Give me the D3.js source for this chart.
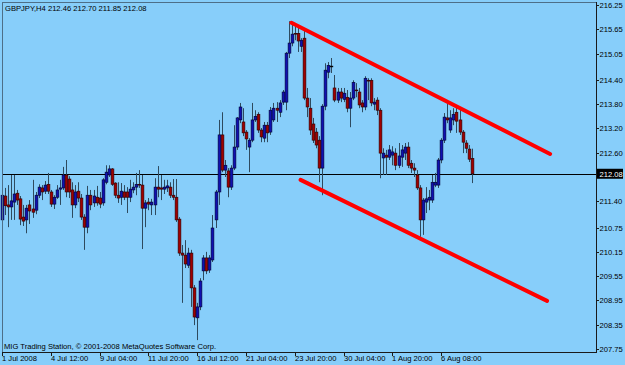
<!DOCTYPE html>
<html>
<head>
<meta charset="utf-8">
<script src="https://cdn.jsdelivr.net/npm/d3@7"></script>
<style>
  html, body { margin: 0; padding: 0; background: #87cefa; }
  svg { display: block; font-family: "Liberation Sans", Arial, sans-serif; }
</style>
</head>
<body>
<svg id="chart" width="625" height="365"></svg>
<script>
const symbol = "GBPJPY,H4";
const copyright = "MIG Trading Station, \u00a9 2001-2008 MetaQuotes Software Corp.";

// H4 bars, 1 Jul 2008 -> 7 Aug 2008
const opens = [210.94,211.53,211.31,211.26,211.38,211.60,211.46,211.01,210.94,211.31,211.21,211.18,211.55,211.73,211.65,211.82,211.63,211.33,211.50,211.70,
  211.73,212.05,211.95,211.68,211.31,211.65,211.48,211.01,210.76,211.55,211.36,211.50,211.48,211.36,211.87,212.05,212.20,211.85,211.55,211.50,
  211.63,211.63,211.50,211.68,211.75,211.82,211.80,211.23,211.38,211.31,211.31,211.75,211.73,211.70,211.73,211.75,211.55,211.50,210.96,210.12,
  210.07,209.82,210.12,209.26,208.52,208.79,209.68,210.00,209.70,209.95,210.94,211.63,213.04,212.17,212.15,211.75,212.22,212.74,213.41,213.36,
  213.11,212.74,212.91,213.41,213.55,213.16,212.96,213.28,213.11,213.41,213.70,213.60,213.85,213.85,215.06,215.31,215.55,215.55,215.23,215.43,
  213.95,213.70,213.31,213.11,212.91,212.22,213.75,214.59,214.74,214.20,213.90,214.10,213.92,213.97,213.70,213.95,214.15,214.10,213.83,213.73,
  214.39,214.39,213.80,213.90,213.65,212.47,212.54,212.49,212.54,212.59,212.29,212.49,212.59,212.74,212.34,212.22,212.05,211.73,210.94,211.38,
  211.43,211.43,211.80,211.80,212.42,212.91,213.46,213.16,213.41,213.60,213.41,213.11,212.84,212.69,212.46];
const highs = [211.75,211.73,211.80,212.05,212.05,211.68,211.53,211.31,211.31,211.43,211.93,211.63,211.82,211.80,211.90,212.10,211.68,211.55,211.80,211.93,
  212.25,212.42,212.02,211.87,211.80,211.87,211.58,211.08,211.78,211.68,211.68,211.78,211.63,211.97,212.29,212.29,212.22,211.87,211.87,211.85,
  211.80,211.75,211.93,211.87,212.10,212.17,212.05,211.43,211.48,211.46,211.97,212.27,212.05,211.93,211.93,211.87,211.95,211.95,211.01,210.32,
  210.44,210.25,210.20,209.33,208.89,209.50,210.07,210.15,210.07,211.06,211.68,213.41,213.60,212.42,212.22,212.29,213.28,213.48,213.83,213.70,
  213.16,212.96,213.83,213.65,213.60,213.21,213.36,213.36,213.73,213.83,213.85,213.90,214.15,215.09,215.85,215.80,215.73,215.75,215.43,215.63,
  214.20,213.95,213.46,213.21,213.01,213.80,214.81,214.84,214.94,214.52,214.20,214.20,214.20,214.15,214.10,214.39,214.32,214.20,213.90,214.49,
  214.44,214.44,213.95,213.97,213.70,212.71,212.67,212.79,212.76,212.71,212.84,212.79,212.84,212.86,212.42,212.34,212.17,211.80,211.48,211.75,
  211.68,212.05,212.10,212.47,212.96,213.58,213.90,213.65,213.70,213.73,213.70,213.16,212.91,212.79,212.70];
const lows = [210.91,211.06,210.76,210.94,210.94,211.31,210.81,210.79,210.61,210.84,210.99,211.08,211.48,211.43,211.58,211.58,211.26,211.21,211.46,211.31,
  211.68,211.50,211.48,210.99,211.23,211.38,210.94,210.20,210.61,211.18,211.26,211.29,211.23,211.29,211.82,212.00,211.78,211.48,211.36,211.31,
  211.43,211.11,211.38,211.60,211.55,211.73,210.22,210.76,211.18,211.06,211.06,211.50,211.43,211.58,211.63,211.48,211.43,210.89,210.05,208.89,
  209.75,209.75,208.79,208.34,207.97,208.71,209.45,209.60,209.63,209.90,210.74,211.31,212.12,212.00,211.50,211.68,212.17,212.67,213.33,213.01,
  212.67,212.12,212.86,213.36,213.09,212.86,212.86,212.86,213.04,213.36,213.36,213.48,213.78,213.65,214.94,215.23,215.38,215.09,215.09,213.90,
  213.48,213.04,212.84,212.71,211.87,211.55,213.65,214.44,214.57,213.85,213.83,213.85,213.85,213.60,213.23,213.90,213.97,213.70,213.60,213.65,
  213.90,213.75,213.65,213.53,211.97,212.05,212.05,212.42,212.29,212.17,212.22,212.25,212.42,212.22,212.10,212.00,211.68,210.52,210.57,211.11,
  211.18,211.36,211.75,211.73,212.34,212.84,213.33,213.09,213.28,213.09,213.04,212.59,212.59,212.37,211.85];
const closes = [211.55,211.29,211.26,211.41,211.58,211.43,210.96,210.91,211.23,211.16,211.13,211.55,211.75,211.63,211.80,211.65,211.33,211.50,211.68,211.73,
  212.05,211.63,211.63,211.31,211.63,211.48,211.01,210.76,211.55,211.31,211.53,211.36,211.33,211.93,212.12,212.20,211.82,211.55,211.48,211.65,
  211.50,211.50,211.70,211.75,211.82,211.80,211.23,211.36,211.33,211.38,211.75,211.70,211.70,211.75,211.78,211.55,211.50,210.94,210.12,210.07,
  209.85,210.12,209.26,208.54,208.79,209.43,210.00,209.68,210.00,210.74,211.63,213.04,212.17,212.29,211.75,212.22,212.74,213.46,213.73,213.09,
  212.94,212.91,213.41,213.50,213.16,212.99,213.28,213.09,213.65,213.70,213.65,213.83,214.10,215.06,215.31,215.53,215.53,215.36,215.38,213.95,
  213.73,213.16,212.91,212.79,212.22,213.75,214.64,214.76,214.74,213.90,214.10,213.95,214.07,213.70,213.95,214.34,214.13,213.78,213.73,214.44,
  214.37,213.83,213.85,213.65,212.59,212.59,212.49,212.67,212.62,212.29,212.52,212.67,212.74,212.29,212.22,212.17,211.73,210.94,211.43,211.46,
  211.50,211.87,211.87,212.42,212.91,213.48,213.41,213.46,213.55,213.38,213.11,212.86,212.71,212.44,212.08];

// time labels, one every 16 bars
const timeLabels = ["1 Jul 2008", "4 Jul 12:00", "9 Jul 04:00", "11 Jul 20:00", "16 Jul 12:00",
  "21 Jul 04:00", "23 Jul 20:00", "30 Jul 04:00", "1 Aug 20:00", "6 Aug 08:00"];
const labelStep = 16;

// 212.00 sits under the bid price box, so only its tick shows
const priceTicks = ["216.25", "215.65", "215.05", "214.40", "213.80", "213.20", "212.60", "212.00",
  "211.40", "210.75", "210.15", "209.55", "208.95", "208.35", "207.75"];

// hand drawn trend lines: [bar, price] -> [bar, price]
const upperLine = [[94.9, 215.81], [179.7, 212.57]];
const lowerLine = [[97.9, 211.93], [178.7, 208.94]];

const bidPrice = 212.08;

function draw() {
  const svg = d3.select("#chart");
  svg.selectAll("*").remove();

  const W = 625, H = 365;
  const plot = { left: 2, top: 2, right: 596, bottom: 352 };

  const bars = opens.map((o, i) => ({ i, o, h: highs[i], l: lows[i], c: closes[i] }));

  const x = d3.scaleLinear().domain([0, 194.75]).range([plot.left, plot.right]);
  const y = d3.scaleLinear().domain([207.75, 216.25]).range([349, 5]);

  svg.append("rect").attr("width", W).attr("height", H).attr("fill", "#87cefa");

  // bid line
  svg.append("line")
    .attr("x1", plot.left).attr("x2", plot.right)
    .attr("y1", Math.round(y(bidPrice)) + 0.5).attr("y2", Math.round(y(bidPrice)) + 0.5)
    .attr("stroke", "#000").attr("stroke-width", 1);

  const g = svg.append("g");

  // wicks
  g.selectAll("line.wick")
    .data(bars)
    .join("line")
    .attr("class", "wick")
    .attr("x1", d => Math.round(x(d.i)) + 0.5)
    .attr("x2", d => Math.round(x(d.i)) + 0.5)
    .attr("y1", d => y(d.h))
    .attr("y2", d => y(d.l))
    .attr("stroke", "#2e4a5e")
    .attr("stroke-width", 1);

  // bodies
  const bw = 2.8;
  g.selectAll("rect.body")
    .data(bars)
    .join("rect")
    .attr("class", "body")
    .attr("x", d => Math.round(x(d.i)) + 0.5 - bw / 2)
    .attr("y", d => y(Math.max(d.o, d.c)))
    .attr("width", bw)
    .attr("height", d => Math.max(0.8, Math.abs(y(d.o) - y(d.c))))
    .attr("fill", d => d.c > d.o ? "#1010b0" : d.c < d.o ? "#a00000" : "#000")
    .attr("stroke", d => d.c > d.o ? "#000030" : d.c < d.o ? "#2a0000" : "#000")
    .attr("stroke-width", 0.6);

  // trend lines
  [upperLine, lowerLine].forEach(tl => {
    svg.append("line")
      .attr("x1", x(tl[0][0])).attr("y1", y(tl[0][1]))
      .attr("x2", x(tl[1][0])).attr("y2", y(tl[1][1]))
      .attr("stroke", "#ff0000")
      .attr("stroke-width", 4)
      .attr("stroke-linecap", "round");
  });

  // frame
  svg.append("line").attr("x1", plot.left + 0.5).attr("x2", plot.left + 0.5)
    .attr("y1", plot.top).attr("y2", plot.bottom).attr("stroke", "#4d6f88");
  svg.append("line").attr("x1", plot.left).attr("x2", plot.right)
    .attr("y1", plot.top + 0.5).attr("y2", plot.top + 0.5).attr("stroke", "#4d6f88");
  svg.append("line").attr("x1", plot.right + 0.5).attr("x2", plot.right + 0.5)
    .attr("y1", plot.top).attr("y2", plot.bottom + 1).attr("stroke", "#1a1a1a");
  svg.append("line").attr("x1", plot.left).attr("x2", plot.right + 1)
    .attr("y1", plot.bottom + 0.5).attr("y2", plot.bottom + 0.5).attr("stroke", "#1a1a1a");

  // price axis
  const by = y(bidPrice);
  const ya = svg.append("g").style("font-size", "7.6px").attr("fill", "#000");
  priceTicks.forEach(t => {
    const yy = Math.round(y(+t)) + 0.5;
    ya.append("line").attr("x1", plot.right).attr("x2", plot.right + 3)
      .attr("y1", yy).attr("y2", yy).attr("stroke", "#1a1a1a");
    if (Math.abs(y(+t) - by) > 8) ya.append("text").attr("x", 599.5).attr("y", yy + 2.8).text(t);
  });

  // bid price box
  svg.append("rect").attr("x", 597).attr("y", by - 5).attr("width", 26).attr("height", 10).attr("fill", "#000");
  svg.append("text").attr("x", 599.5).attr("y", by + 2.8)
    .style("font-size", "7.6px").attr("fill", "#fff").text(bidPrice.toFixed(2));

  // time axis
  const xa = svg.append("g").style("font-size", "7.6px");
  timeLabels.forEach((t, k) => {
    const xx = Math.round(x(k * labelStep)) + 0.5;
    xa.append("line").attr("x1", xx).attr("x2", xx)
      .attr("y1", plot.bottom).attr("y2", plot.bottom + 4).attr("stroke", "#1a1a1a");
    xa.append("text").attr("x", xx - 0.5).attr("y", 361).text(t);
  });

  // header and footer
  const q = bars[bars.length - 1];
  svg.append("text").attr("x", 5).attr("y", 10.5).style("font-size", "7.6px")
    .text(`${symbol}  ${q.o.toFixed(2)} ${q.h.toFixed(2)} ${q.l.toFixed(2)} ${q.c.toFixed(2)}`);
  svg.append("text").attr("x", 4).attr("y", 348.5).style("font-size", "7.6px").text(copyright);
}

draw();
</script>
</body>
</html>
